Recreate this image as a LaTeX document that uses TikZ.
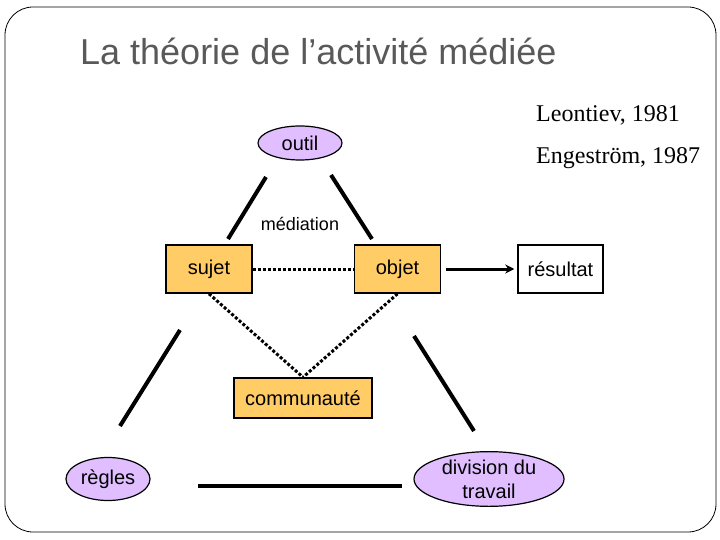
\documentclass[tikz,border=0pt]{standalone}
\usepackage{fontspec}
\setmainfont{Liberation Sans}
\newfontfamily\refsfont{Liberation Serif}
\usetikzlibrary{shapes.geometric, arrows.meta, positioning}
\definecolor{poleorange}{RGB}{255,204,102}
\definecolor{meanslilac}{RGB}{224,190,255}
\definecolor{titlegray}{RGB}{89,89,89}
\tikzstyle{pole}   = [rectangle, draw=black, line width=1.5pt, fill=poleorange,
                      minimum width=86pt, minimum height=48pt, inner sep=0pt, text centered]
\tikzstyle{means}  = [ellipse, draw=black, line width=1.2pt, fill=meanslilac,
                      minimum width=84pt, minimum height=34pt, inner sep=0pt, align=center]
\tikzstyle{link}   = [line width=4pt]
\tikzstyle{dotted link} = [line width=3pt, dash pattern=on 3pt off 2pt]
\tikzstyle{arrow}  = [line width=3pt, -{Stealth[length=9pt,width=9pt]}]

\begin{document}
\begin{tikzpicture}[x=1pt, y=-1pt, every node/.style={font=\fontsize{20}{24}\selectfont}]

  \useasboundingbox (0,0) rectangle (720,540);
  \draw[rounded corners=28pt, line width=0.8pt] (5,7) rectangle (716,532);

  % Title and references
  \node (title) [anchor=base west, inner sep=0pt, text=titlegray, font=\fontsize{36}{40}\selectfont]
        at (80,65) {La théorie de l’activité médiée};
  \node (leontiev)  [anchor=west, inner sep=0pt, font=\refsfont\fontsize{24}{28}\selectfont] at (536,115) {Leontiev, 1981};
  \node (engestrom) [anchor=west, inner sep=0pt, font=\refsfont\fontsize{24}{28}\selectfont] at (536,158) {Engeström, 1987};

  % Upper triangle
  \node (outil)  [means] at (300,143) {outil};
  \node (sujet)  [pole] at (209,269) {sujet};
  \node (objet)  [pole, right=101pt of sujet] {objet};
  \node (result) [pole, right=76pt of objet, fill=white, minimum width=85pt] {résultat};
  \node (mediation) [font=\fontsize{18}{22}\selectfont] at (300,224) {médiation};

  % Community and lower poles
  \node (commu)    [pole, minimum width=138pt, minimum height=40pt] at (303,398) {communauté};
  \node (regles)   [means, minimum height=43pt] at (108,479) {règles};
  \node (division) [means, minimum width=150pt, minimum height=48pt] at (489,479) {division du\\travail};

  % Free segments
  \coordinate (os1) at (266,177);  \coordinate (os2) at (228,239);
  \coordinate (oo1) at (331,175);  \coordinate (oo2) at (372,239);
  \coordinate (sr1) at (180,330);  \coordinate (sr2) at (120,426);
  \coordinate (od1) at (414,336);  \coordinate (od2) at (474,431);
  \coordinate (rd1) at (198,486);  \coordinate (rd2) at (402,486);

  \draw[link] (os1) -- (os2);
  \draw[link] (oo1) -- (oo2);
  \draw[link] (sr1) -- (sr2);
  \draw[link] (od1) -- (od2);
  \draw[link] (rd1) -- (rd2);

  % Dotted relations
  \draw[dotted link] (sujet) -- (objet);
  \draw[dotted link] (sujet.south) -- (commu.north);
  \draw[dotted link] (objet.south) -- (commu.north);

  % Outcome
  \draw[arrow, shorten <=5pt, shorten >=3pt] (objet) -- (result);

\end{tikzpicture}
\end{document}
